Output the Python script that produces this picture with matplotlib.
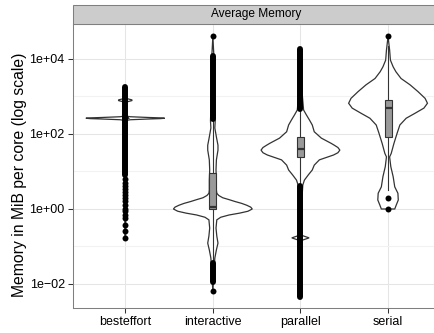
import numpy as np
import matplotlib
matplotlib.use("Agg")
import matplotlib.pyplot as plt
from matplotlib.patches import Rectangle

plt.rcParams['font.family'] = ['Liberation Sans', 'DejaVu Sans']

# ---------------- data (log10 of MiB per core) ----------------
categories = ["besteffort", "interactive", "parallel", "serial"]

# violin profiles: log10 levels and relative half-width (1 = widest)
be_levels = [-0.77, 2.36, 2.38, 2.40, 2.41, 2.42, 2.43, 2.44, 2.46, 2.48,
             2.84, 2.87, 2.89, 2.91, 2.93, 2.96, 3.26]
be_width = [0.01, 0.01, 0.13, 0.60, 0.89, 1.0, 0.89, 0.60, 0.13, 0.01,
            0.01, 0.09, 0.17, 0.17, 0.09, 0.01, 0.0]

in_levels = [-2.19, -1.49, -1.31, -1.09, -0.91, -0.72, -0.51, -0.29, -0.22,
             -0.16, -0.11, -0.06, 0.0, 0.05, 0.10, 0.15, 0.20, 0.25, 0.30,
             0.36, 0.42, 0.50, 0.77, 1.04, 1.31, 1.57, 1.70, 1.92, 2.16,
             2.35, 3.0, 4.0, 4.6]
in_width = [0.0, 0.04, 0.05, 0.09, 0.13, 0.10, 0.08, 0.10, 0.20, 0.41, 0.68,
            0.89, 1.0, 0.96, 0.86, 0.73, 0.56, 0.41, 0.25, 0.15, 0.10, 0.09,
            0.09, 0.08, 0.09, 0.13, 0.13, 0.09, 0.05, 0.06, 0.04, 0.03, 0.0]

pa_levels = [-2.34, -2.0, -0.9, -0.834, -0.802, -0.77, -0.738, -0.706, -0.6,
             0.3, 0.64, 0.77, 0.91, 1.04, 1.17, 1.31, 1.44, 1.50, 1.57, 1.64,
             1.70, 1.75, 1.89, 2.06, 2.24, 2.37, 2.51, 2.64, 3.0, 4.26]
pa_width = [0.0, 0.03, 0.03, 0.04, 0.13, 0.22, 0.13, 0.04, 0.03, 0.04, 0.06,
            0.10, 0.20, 0.30, 0.35, 0.48, 0.84, 0.95, 1.0, 0.95, 0.86, 0.78,
            0.53, 0.35, 0.30, 0.23, 0.15, 0.08, 0.05, 0.0]

se_levels = [0.0, 0.11, 0.24, 0.42, 0.59, 0.86, 1.13, 1.39, 1.48, 1.75, 2.02,
             2.24, 2.42, 2.55, 2.69, 2.82, 2.95, 3.13, 3.31, 3.48, 3.66, 3.79,
             3.97, 4.24, 4.6]
se_width = [0.17, 0.21, 0.26, 0.25, 0.17, 0.13, 0.07, 0.04, 0.08, 0.15, 0.23,
            0.30, 0.46, 0.68, 0.91, 1.0, 0.94, 0.76, 0.56, 0.33, 0.20, 0.13,
            0.06, 0.04, 0.0]

# boxplot statistics (log10)
box_q1 = [2.42, 0.00, 1.39, 1.93]
box_med = [2.42, 0.04, 1.60, 2.70]
box_q3 = [2.42, 0.95, 1.91, 2.91]
whisk_lo = [2.42, -1.42, 0.64, 0.50]
whisk_hi = [2.42, 2.35, 2.62, 4.35]

# outliers: dense runs (low, high) and single points (log10)
be_runs = [(0.9, 3.26)]
be_points = [0.80, 0.70, 0.62, 0.52, 0.45, 0.36, 0.28, 0.20, 0.10, 0.0,
             -0.05, -0.16, -0.25, -0.43, -0.60, -0.77]
in_runs = [(2.40, 4.08), (-1.95, -1.45)]
in_points = [4.6, -2.19]
pa_runs = [(2.66, 4.26), (-2.34, 0.60)]
pa_points = []
se_runs = []
se_points = [4.6, 0.29, 0.0]

y_ticks = [-2, 0, 2, 4]
y_tick_labels = ["1e\u221202", "1e+00", "1e+02", "1e+04"]
y_minor = [-1, 1, 3]

violins = [(be_levels, be_width), (in_levels, in_width),
           (pa_levels, pa_width), (se_levels, se_width)]
runs = [be_runs, in_runs, pa_runs, se_runs]
points = [be_points, in_points, pa_points, se_points]

# ---------------- figure ----------------
W, H = 435, 333
fig = plt.figure(figsize=(W / 100, H / 100), dpi=100)
px_left, px_right, px_top, px_bot = 72.7, 440.6, 24.0, 308.0
ax = fig.add_axes([px_left / W, (H - px_bot) / H,
                   (px_right - px_left) / W, (px_bot - px_top) / H])
ax.set_yscale('log')
ax.set_xlim(0.4, 4.6)
ax.set_ylim(10 ** -2.64, 10 ** 4.933)

dark = '#333333'
half = 0.45
bw = 0.08
ms_pt = 4.3

for i, (lev, wid) in enumerate(violins):
    xc = i + 1
    y = 10 ** np.array(lev)
    hw = np.array(wid) * half
    xs = np.concatenate([xc - hw, (xc + hw)[::-1]])
    ys = np.concatenate([y, y[::-1]])
    ax.fill(xs, ys, facecolor='white', edgecolor=dark, lw=0.9, zorder=2)

for i in range(len(categories)):
    xc = i + 1
    # whiskers
    ax.plot([xc, xc], [10 ** whisk_lo[i], 10 ** box_q1[i]], color=dark, lw=0.8, zorder=3)
    ax.plot([xc, xc], [10 ** box_q3[i], 10 ** whisk_hi[i]], color=dark, lw=0.8, zorder=3)
    # box
    ax.bar(xc, 10 ** box_q3[i] - 10 ** box_q1[i], bottom=10 ** box_q1[i],
           width=bw, color='#999999', edgecolor=dark, lw=0.8, zorder=4)
    ax.plot([xc - bw / 2, xc + bw / 2], [10 ** box_med[i]] * 2, color=dark,
            lw=1.6, zorder=5, solid_capstyle='butt')
    # outliers
    for lo, hi in runs[i]:
        ax.plot([xc, xc], [10 ** lo, 10 ** hi], color='black', lw=ms_pt,
                solid_capstyle='round', zorder=6)
    if points[i]:
        ax.plot([xc] * len(points[i]), 10 ** np.array(points[i]), 'o',
                color='black', ms=ms_pt, mew=0, zorder=6)

# axes styling
ax.set_xticks(range(1, len(categories) + 1))
ax.set_xticklabels(categories)
ax.set_yticks([10.0 ** t for t in y_ticks])
ax.set_yticklabels(y_tick_labels)
ax.set_yticks([10.0 ** t for t in y_minor], minor=True)
ax.yaxis.set_minor_formatter(matplotlib.ticker.NullFormatter())
ax.tick_params(which='major', length=3.5, width=0.75, color=dark,
               labelsize=9, labelcolor='black', pad=2.2)
ax.tick_params(which='minor', length=0)
ax.grid(which='major', color='#e5e5e5', lw=0.75)
ax.grid(which='minor', axis='y', color='#f2f2f2', lw=0.75)
ax.set_axisbelow(True)
for s in ax.spines.values():
    s.set_color('#7f7f7f')
    s.set_linewidth(0.75)

# facet strip
strip_h = 19.0 / (px_bot - px_top)
ax.add_patch(Rectangle((0, 1), 1, strip_h, transform=ax.transAxes,
                       facecolor='#cccccc', edgecolor='#7f7f7f', lw=0.75,
                       clip_on=False, zorder=10))
ax.text(0.5, 1 + strip_h / 2, "Average Memory", transform=ax.transAxes,
        ha='center', va='center', fontsize=8.6, color='black', zorder=11)

fig.text(20 / W, 1 - 175 / H, "Memory in MiB per core (log scale)",
         rotation=90, ha='center', va='center', fontsize=11.3, color='black')

fig.savefig("out.png", dpi=100, facecolor='white')
